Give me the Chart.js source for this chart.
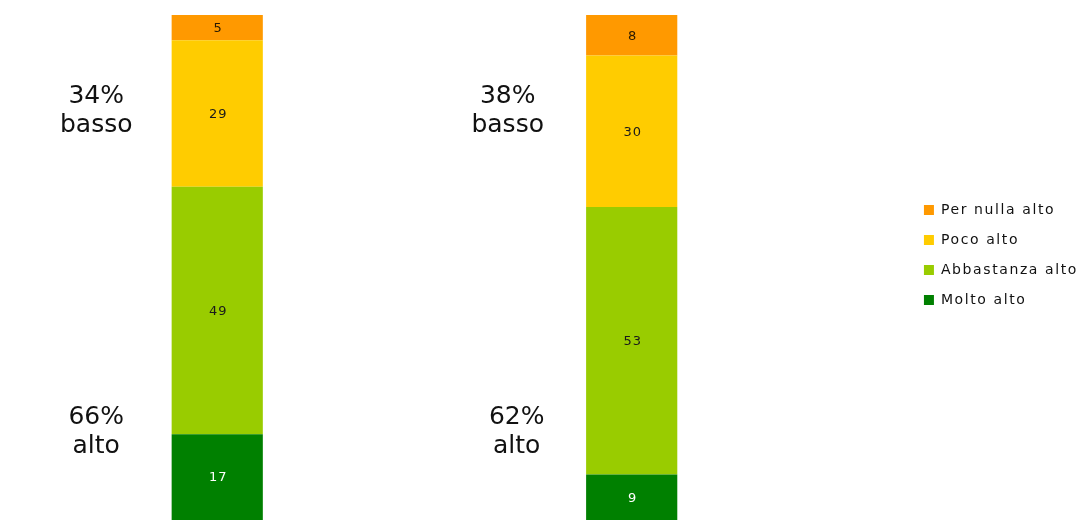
<!DOCTYPE html>
<html>
<head>
<meta charset="utf-8">
<script src="https://cdn.jsdelivr.net/npm/chart.js@4/dist/chart.umd.min.js"></script>
<style>
  html, body { margin: 0; padding: 0; background: #ffffff; }
  #wrap { width: 1088px; height: 521px; }
</style>
</head>
<body>
<div id="wrap"><canvas id="chart" width="1088" height="521"></canvas></div>
<script>
const GROUPS = ["A", "B"];
const MOLTO_ALTO = [17, 9];
const ABBASTANZA_ALTO = [49, 53];
const POCO_ALTO = [29, 30];
const PER_NULLA_ALTO = [5, 8];

// bar colours, bottom to top
const COLORS = ["#008000", "#99cc00", "#ffcc00", "#ff9900"];
// label colour inside each segment
const VALUE_COLORS = ["#ffffff", "#1a1a1a", "#1a1a1a", "#2a1a00"];

const seg = (label, data, i) => ({
  label,
  data,
  backgroundColor: COLORS[i],
  borderWidth: 0,
  barPercentage: 0.44,
  categoryPercentage: 0.5,
});

// wider letter spacing for the legend text (also used when measuring it)
const spacingPlugin = {
  id: "letterSpacing",
  beforeLayout(chart) {
    chart.ctx.letterSpacing = "1.6px";
  },
  beforeDraw(chart) {
    chart.ctx.letterSpacing = "1.6px";
  },
};

// value labels inside the segments, plus the big "alto / basso" summaries
const labelsPlugin = {
  id: "segmentLabels",
  afterDatasetsDraw(chart) {
    const ctx = chart.ctx;
    const yScale = chart.scales.y;
    ctx.save();
    ctx.textAlign = "center";
    ctx.textBaseline = "middle";
    ctx.letterSpacing = "1px";
    ctx.font = "13px 'DejaVu Sans'";
    chart.data.datasets.forEach((ds, di) => {
      chart.getDatasetMeta(di).data.forEach((bar, i) => {
        ctx.fillStyle = VALUE_COLORS[di];
        const mid = (bar.y + bar.base) / 2;
        ctx.fillText(String(ds.data[i]), bar.x + 1, mid + 1);
      });
    });

    ctx.letterSpacing = "0px";
    ctx.font = "25px 'DejaVu Sans'";
    ctx.fillStyle = "#111111";
    const bassoOffsets = [-121, -124];
    const altoOffsets = [-121, -115];
    chart.getDatasetMeta(0).data.forEach((bar, i) => {
      const alto = MOLTO_ALTO[i] + ABBASTANZA_ALTO[i];
      const basso = POCO_ALTO[i] + PER_NULLA_ALTO[i];
      const yb = yScale.getPixelForValue(81);
      const ya = yScale.getPixelForValue(17.5);
      ctx.fillText(basso + "%", bar.x + bassoOffsets[i], yb - 14);
      ctx.fillText("basso", bar.x + bassoOffsets[i], yb + 15);
      ctx.fillText(alto + "%", bar.x + altoOffsets[i], ya - 14);
      ctx.fillText("alto", bar.x + altoOffsets[i], ya + 15);
    });
    ctx.restore();
  },
};

const ctx = document.getElementById("chart").getContext("2d");
new Chart(ctx, {
  type: "bar",
  data: {
    labels: GROUPS,
    datasets: [
      seg("Molto alto", MOLTO_ALTO, 0),
      seg("Abbastanza alto", ABBASTANZA_ALTO, 1),
      seg("Poco alto", POCO_ALTO, 2),
      seg("Per nulla alto", PER_NULLA_ALTO, 3),
    ],
  },
  options: {
    responsive: false,
    animation: false,
    layout: { padding: { left: 10, top: 15, bottom: 1, right: 0 } },
    scales: {
      x: { stacked: true, display: false },
      y: {
        stacked: true,
        min: 0,
        max: 100,
        position: "right",
        ticks: { display: false },
        grid: { display: false },
        border: { display: false },
        afterFit(axis) {
          axis.width = 69;
        },
      },
    },
    plugins: {
      tooltip: { enabled: false },
      legend: {
        position: "right",
        align: "start",
        reverse: true,
        title: {
          display: true,
          text: " ",
          font: { size: 10, lineHeight: 1 },
          padding: { top: 162, bottom: 0 },
        },
        labels: {
          boxWidth: 10,
          boxHeight: 10,
          padding: 16,
          color: "#111111",
          font: { family: "'DejaVu Sans'", size: 14 },
        },
      },
    },
  },
  plugins: [spacingPlugin, labelsPlugin],
});
</script>
</body>
</html>
